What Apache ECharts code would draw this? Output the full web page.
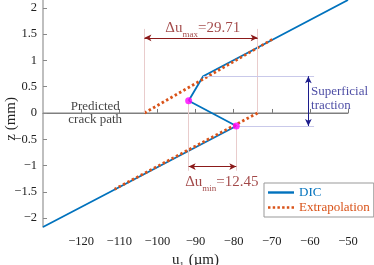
<!DOCTYPE html>
<html>
<head>
<meta charset="utf-8">
<script src="https://cdn.jsdelivr.net/npm/echarts@6/dist/echarts.min.js"></script>
<style>html,body{margin:0;padding:0;background:#fff}#c{width:374px;height:265px}</style>
</head>
<body>
<div id="c"></div>
<script>
// ---- data ----
const xTicks = [-120, -110, -100, -90, -80, -70, -60, -50];
const yTicks = [-2, -1.5, -1, -0.5, 0, 0.5, 1, 1.5, 2];
const dicU = [-130, -79.3, -91.8, -88.0, -50];
const dicZ = [-2.17, -0.247, 0.234, 0.70, 2.15];
const extUpperU = [-103.4, -69.4];
const extUpperZ = [0, 1.42];
const extLowerU = [-73.7, -111.2];
const extLowerZ = [0, -1.45];
const markerU = [-91.8, -79.3];
const markerZ = [0.234, -0.247];
const crackU = [-130, -50];
const crackZ = [0, 0];
const deltaMaxU = [-103.4, -73.7];
const deltaMaxZ = 1.43;
const deltaMinU = [-91.8, -79.3];
const deltaMinZ = -1.02;
const tractionU = -60.4;
const tractionZ = [0.70, -0.247];
const tractionGuideEnd = -58.9;
const deltaMaxValue = '29.71';
const deltaMinValue = '12.45';

const FONT = '"Liberation Serif", "DejaVu Serif", serif';
const zip = (a, b) => a.map((v, i) => [v, b[i]]);
const pinkGuide = { color: '#e9cccc', width: 1, type: 'solid' };
const lavGuide = { color: '#c9c9ea', width: 1, type: 'solid' };
const darkRed = '#8b1a1a';
const navy = '#1c1c8c';

const solidIcon = 'path://M0,0h26v2.4h-26z';
let dots = '';
for (let i = 0; i < 6; i++) dots += 'M' + (i * 4.6) + ',0h2.4v2.4h-2.4z';
const dottedIcon = 'path://' + dots;

const chart = echarts.init(document.getElementById('c'), null, { renderer: 'canvas' });
const minus = v => String(v).replace('-', '\u2212');

chart.setOption({
  animation: false,
  backgroundColor: '#fff',
  grid: { left: 43, right: 26, top: 0, bottom: 38, containLabel: false, outerBoundsMode: 'none' },
  graphic: [
    { type: 'text', left: 4, top: 97, rotation: Math.PI / 2,
      style: { text: 'z (mm)', fontFamily: FONT, fontSize: 15, fill: '#222' } }
  ],
  xAxis: {
    type: 'value', min: -130, max: -50,
    name: '{a|u}{s|1}{a| (\u00b5m)}', nameLocation: 'middle', nameGap: 21,
    nameTextStyle: { rich: {
      a: { fontFamily: FONT, fontSize: 15, color: '#222', lineHeight: 16 },
      s: { fontFamily: FONT, fontSize: 9, color: '#222', lineHeight: 9, verticalAlign: 'bottom', padding: [0, 1, -2, 0] }
    } },
    axisLine: { lineStyle: { color: '#777', width: 1 } },
    axisTick: { inside: true, length: 4, lineStyle: { color: '#777' }, customValues: xTicks },
    axisLabel: { fontFamily: FONT, fontSize: 12.5, color: '#222', margin: 8, customValues: xTicks, formatter: minus },
    splitLine: { show: false }
  },
  yAxis: {
    type: 'value', min: -2.17, max: 2.15,
    axisLine: { show: true, lineStyle: { color: '#aaa', width: 1.5 } },
    axisTick: { show: true, inside: true, length: 4, lineStyle: { color: '#888' }, customValues: yTicks },
    axisLabel: { fontFamily: FONT, fontSize: 12.5, color: '#222', margin: 6, customValues: yTicks, formatter: minus },
    splitLine: { show: false }
  },
  legend: {
    orient: 'vertical', left: 264, top: 183,
    padding: [3, 4, 3, 4], itemGap: 2, itemWidth: 26, itemHeight: 12,
    borderColor: '#999', borderWidth: 1, backgroundColor: '#fff',
    textStyle: { fontFamily: FONT, fontSize: 13 },
    data: [
      { name: 'DIC', icon: solidIcon, itemStyle: { color: '#0072bd' }, textStyle: { color: '#0072bd' } },
      { name: 'Extrapolation', icon: dottedIcon, itemStyle: { color: '#d95319' }, textStyle: { color: '#d95319' } }
    ]
  },
  series: [
    { // predicted crack path and guide lines
      type: 'line', silent: true, symbol: 'none', z: 1,
      data: zip(crackU, crackZ),
      lineStyle: { color: '#888', width: 1 },
      markLine: {
        silent: true, symbol: 'none', animation: false, label: { show: false },
        data: [
          [{ coord: [deltaMaxU[0], 1.60], lineStyle: pinkGuide }, { coord: [deltaMaxU[0], 0] }],
          [{ coord: [deltaMaxU[1], 1.60], lineStyle: pinkGuide }, { coord: [deltaMaxU[1], 0] }],
          [{ coord: [deltaMinU[0], markerZ[0]], lineStyle: pinkGuide }, { coord: [deltaMinU[0], -1.10] }],
          [{ coord: [deltaMinU[1], markerZ[1]], lineStyle: pinkGuide }, { coord: [deltaMinU[1], -1.10] }],
          [{ coord: [dicU[3], tractionZ[0]], lineStyle: lavGuide }, { coord: [tractionGuideEnd, tractionZ[0]] }],
          [{ coord: [markerU[1], tractionZ[1]], lineStyle: lavGuide }, { coord: [tractionGuideEnd, tractionZ[1]] }]
        ]
      }
    },
    { // arrows
      type: 'line', silent: true, symbol: 'none', z: 2, data: [],
      markLine: {
        silent: true, symbol: ['arrow', 'arrow'], symbolSize: [5, 7], animation: false, label: { show: false },
        data: [
          [{ coord: [deltaMaxU[0], deltaMaxZ], lineStyle: { color: darkRed, width: 1, type: 'solid' }, itemStyle: { color: darkRed } }, { coord: [deltaMaxU[1], deltaMaxZ] }],
          [{ coord: [deltaMinU[0], deltaMinZ], lineStyle: { color: darkRed, width: 1, type: 'solid' }, itemStyle: { color: darkRed } }, { coord: [deltaMinU[1], deltaMinZ] }],
          [{ coord: [tractionU, tractionZ[0]], lineStyle: { color: navy, width: 1, type: 'solid' }, itemStyle: { color: navy } }, { coord: [tractionU, tractionZ[1]] }]
        ]
      }
    },
    {
      name: 'DIC', type: 'line', symbol: 'none', z: 3,
      data: zip(dicU, dicZ),
      lineStyle: { color: '#0072bd', width: 1.8 }, itemStyle: { color: '#0072bd' }
    },
    {
      name: 'Extrapolation', type: 'line', symbol: 'none', z: 4,
      data: zip(extUpperU, extUpperZ),
      lineStyle: { color: '#d95319', width: 2.8, type: [2.5, 2.5] }, itemStyle: { color: '#d95319' }
    },
    {
      name: 'Extrapolation', type: 'line', symbol: 'none', z: 4,
      data: zip(extLowerU, extLowerZ),
      lineStyle: { color: '#d95319', width: 2.8, type: [2.5, 2.5] }, itemStyle: { color: '#d95319' }
    },
    {
      type: 'scatter', z: 5, symbolSize: 7, silent: true,
      data: zip(markerU, markerZ),
      itemStyle: { color: '#ff00ff' }
    },
    { // text annotations
      type: 'scatter', z: 6, symbolSize: 0, silent: true,
      data: [
        { value: [-88.1, 1.625], label: { formatter: '{a|\u0394u}{s|max}{a|=' + deltaMaxValue + '}', color: darkRed } },
        { value: [-83.1, -1.31], label: { formatter: '{a|\u0394u}{s|min}{a|=' + deltaMinValue + '}', color: darkRed } },
        { value: [-59.7, 0.27], label: { formatter: 'Superficial\ntraction', position: 'right', distance: 0, color: navy, fontSize: 13, lineHeight: 14, fontFamily: FONT, align: 'left' } },
        { value: [-116.3, 0.0], label: { formatter: 'Predicted\ncrack path', color: '#111', fontSize: 13, lineHeight: 13, fontFamily: FONT } }
      ],
      label: {
        show: true, position: 'inside', fontFamily: FONT,
        rich: {
          a: { fontFamily: FONT, fontSize: 15, color: darkRed, lineHeight: 17 },
          s: { fontFamily: FONT, fontSize: 9, color: darkRed, lineHeight: 9, verticalAlign: 'bottom', padding: [0, 0, -3, 0] }
        }
      }
    }
  ]
});
</script>
</body>
</html>
